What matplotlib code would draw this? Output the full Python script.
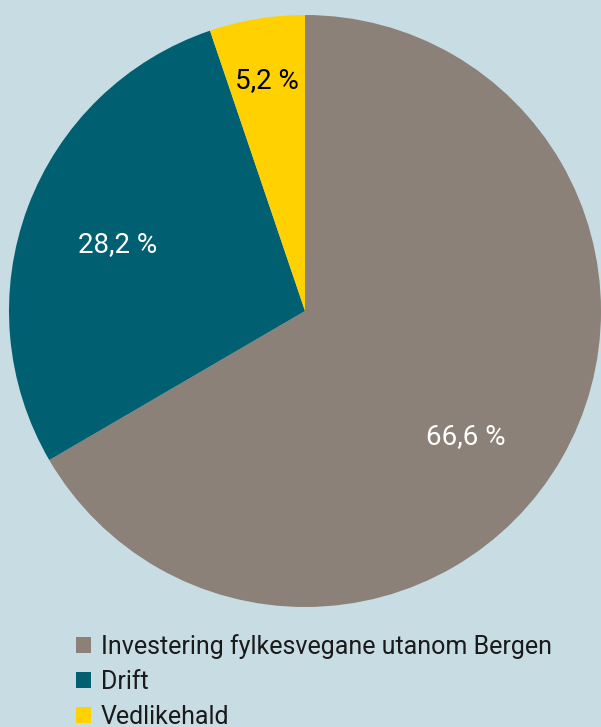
import numpy as np
import matplotlib.pyplot as plt
from matplotlib.patches import Patch

plt.rcParams['font.family'] = ['Roboto', 'DejaVu Sans']

labels = ['Investering fylkesvegane utanom Bergen', 'Drift', 'Vedlikehald']
values = [66.6, 28.2, 5.2]
pct_text = ['66,6 %', '28,2 %', '5,2 %']
colors = ['#8b8178', '#005f71', '#ffd100']
text_colors = ['white', 'white', 'black']

bg = '#c8dce3'
fig = plt.figure(figsize=(6.01, 7.27), dpi=100, facecolor=bg)
ax = fig.add_axes([9 / 601, 120 / 727, 592 / 601, 592 / 727])
ax.set_facecolor(bg)

wedges, _ = ax.pie(values, colors=colors, startangle=90, counterclock=False,
                   radius=1.0, wedgeprops=dict(linewidth=0))

# label placement: radius and angle tweak per slice
label_r = [0.69, 0.67, 0.79]
angle_shift = [-8, 1, 0]
for w, txt, tc, r, da in zip(wedges, pct_text, text_colors, label_r, angle_shift):
    mid = np.deg2rad((w.theta1 + w.theta2) / 2 + da)
    ax.text(r * np.cos(mid), r * np.sin(mid), txt, ha='center', va='center',
            color=tc, fontsize=20, fontweight='normal')

ax.set_xlim(-1, 1)
ax.set_ylim(-1, 1)
ax.set_aspect('equal')
ax.axis('off')

handles = [Patch(facecolor=c, edgecolor='none') for c in colors]
fig.legend(handles, labels, loc='upper left', bbox_to_anchor=(76 / 601, 1 - 634 / 727),
           frameon=False, fontsize=18, handlelength=0.6, handleheight=0.6,
           handletextpad=0.4, labelspacing=0.44, borderaxespad=0, borderpad=0,
           labelcolor='#1a1a1a')

fig.savefig('out.png', dpi=100, facecolor=bg)
